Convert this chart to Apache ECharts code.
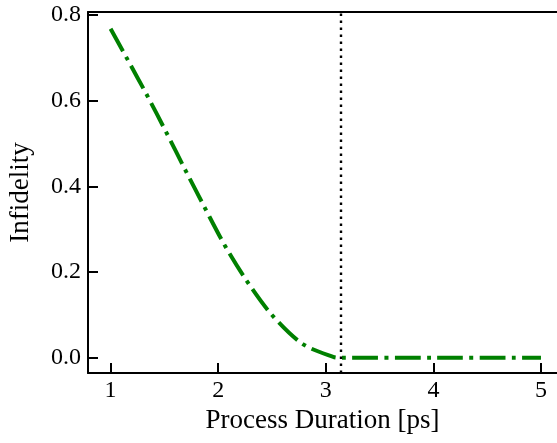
<!DOCTYPE html>
<html>
<head>
<meta charset="utf-8">
<script src="https://cdn.jsdelivr.net/npm/echarts@6/dist/echarts.min.js"></script>
<style>html,body{margin:0;padding:0;background:#fff;}#chart{width:557px;height:443px;}</style>
</head>
<body>
<div id="chart"></div>
<script>
// Process duration [ps] and infidelity
var durations = [1.0, 1.149, 1.34, 1.52, 1.697, 1.876, 2.062, 2.264, 2.496, 2.781, 3.069, 3.14, 4.0, 5.0];
var infidelity = [0.768, 0.700, 0.612, 0.525, 0.437, 0.350, 0.262, 0.180, 0.101, 0.033, 0.002, 0.0, 0.0, 0.0];
var xTicks = [1, 2, 3, 4, 5];
var yTicks = [0.0, 0.2, 0.4, 0.6, 0.8];
var markerX = [3.1416];

var FONT = 'Liberation Serif';
var chart = echarts.init(document.getElementById('chart'), null, {renderer: 'canvas'});
var pts = durations.map(function (d, i) { return [d, infidelity[i]]; });

chart.setOption({
  animation: false,
  backgroundColor: '#fff',
  grid: {left: 88, right: 0, top: 12, bottom: 70, containLabel: false, outerBoundsMode: 'none'},
  xAxis: [{
    type: 'value', min: 0.79, max: 5.149, position: 'bottom',
    name: 'Process Duration [ps]', nameLocation: 'middle', nameGap: 30,
    nameTextStyle: {fontFamily: FONT, fontSize: 27, color: '#000'},
    axisLine: {show: true, onZero: false, lineStyle: {color: '#000', width: 2}},
    axisTick: {show: true, inside: true, length: 10, customValues: xTicks, lineStyle: {color: '#000', width: 2}},
    axisLabel: {customValues: xTicks, margin: 6, fontFamily: FONT, fontSize: 24, color: '#000'},
    splitLine: {show: false}
  }, {
    type: 'value', min: 0.79, max: 5.149, position: 'top',
    axisLine: {show: true, onZero: false, lineStyle: {color: '#000', width: 2}},
    axisTick: {show: false}, axisLabel: {show: false}, splitLine: {show: false}
  }],
  yAxis: [{
    type: 'value', min: -0.0355, max: 0.807,
    name: 'Infidelity', nameLocation: 'middle', nameGap: 54,
    nameTextStyle: {fontFamily: FONT, fontSize: 27, color: '#000'},
    axisLine: {show: true, onZero: false, lineStyle: {color: '#000', width: 2}},
    axisTick: {show: true, inside: true, length: 10, customValues: yTicks, lineStyle: {color: '#000', width: 2}},
    axisLabel: {customValues: yTicks, margin: 7, fontFamily: FONT, fontSize: 24, color: '#000',
      formatter: function (v) { return v.toFixed(1); }},
    splitLine: {show: false}
  }],
  series: [{
    type: 'line', data: pts, smooth: 0.3, showSymbol: false,
    lineStyle: {color: '#008000', width: 4, type: [25.6, 6.4, 4, 6.4], cap: 'butt'},
    markLine: {
      silent: true, symbol: ['none', 'none'], label: {show: false},
      lineStyle: {color: '#000', width: 2.4, type: [2.6, 4.4]},
      data: markerX.map(function (x) { return {xAxis: x}; })
    }
  }]
});
</script>
</body>
</html>
